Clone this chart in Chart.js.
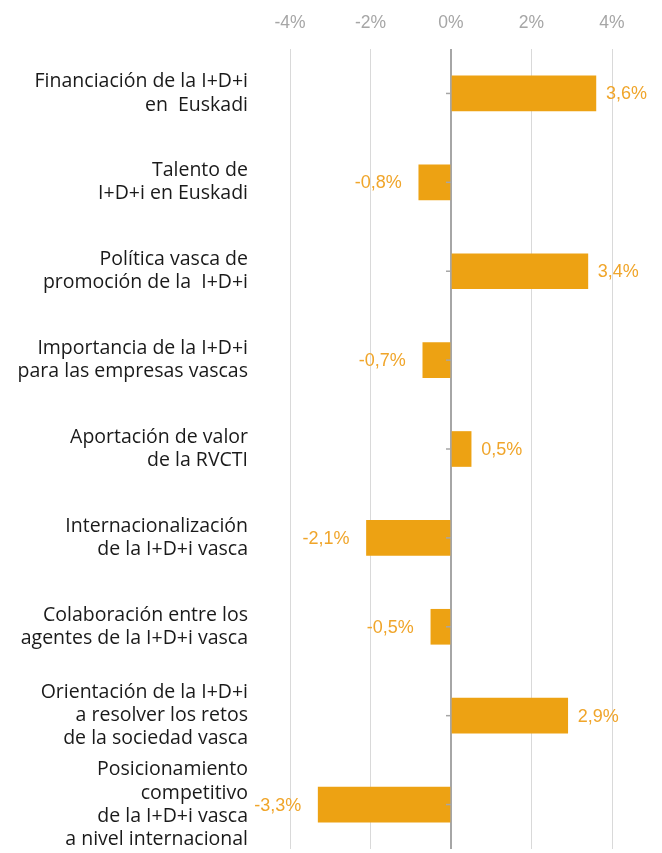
<!DOCTYPE html>
<html>
<head>
<meta charset="utf-8">
<script src="https://cdn.jsdelivr.net/npm/chart.js@4/dist/chart.umd.min.js"></script>
<style>
  html, body { margin: 0; padding: 0; background: #fff; }
  #wrap { width: 662px; height: 853px; }
</style>
</head>
<body>
<div id="wrap"><canvas id="chart"></canvas></div>
<script>
const categories = [
  ["Financiación de la I+D+i", "en  Euskadi"],
  ["Talento de", "I+D+i en Euskadi"],
  ["Política vasca de", "promoción de la  I+D+i"],
  ["Importancia de la I+D+i", "para las empresas vascas"],
  ["Aportación de valor", "de la RVCTI"],
  ["Internacionalización", "de la I+D+i vasca"],
  ["Colaboración entre los", "agentes de la I+D+i vasca"],
  ["Orientación de la I+D+i", "a resolver los retos", "de la sociedad vasca"],
  ["Posicionamiento", "competitivo", "de la I+D+i vasca", "a nivel internacional"]
]
const values = [3.6, -0.8, 3.4, -0.7, 0.5, -2.1, -0.5, 2.9, -3.3]
const xTicks = [-4, -2, 0, 2, 4]

const orange = "#eda213"
const fmt = (v) => v.toFixed(1).replace(".", ",") + "%"

// value labels outside bar ends + little ticks on the zero line
const barLabels = {
  id: "barLabels",
  afterDatasetsDraw(chart){
    const ctx = chart.ctx
    const meta = chart.getDatasetMeta(0)
    const x = chart.scales.x
    const zero = x.getPixelForValue(0)
    ctx.save()
    ctx.strokeStyle = "#a6a6a6"
    ctx.lineWidth = 1.5
    meta.data.forEach(bar => {
      ctx.beginPath()
      ctx.moveTo(zero - 5, bar.y)
      ctx.lineTo(zero, bar.y)
      ctx.stroke()
    })
    ctx.font = "18px 'Liberation Sans', Arial, sans-serif"
    ctx.fillStyle = "#f0a52a"
    ctx.textBaseline = "middle"
    meta.data.forEach((bar, i) => {
      const v = values[i]
      if(v >= 0){
        ctx.textAlign = "left"
        ctx.fillText(fmt(v), bar.x + 10, bar.y + 1)
      } else {
        ctx.textAlign = "right"
        ctx.fillText(fmt(v), bar.x - 17, bar.y + 1)
      }
    })
    ctx.restore()
  }
}

new Chart(document.getElementById("chart"), {
  type: "bar",
  data: {
    labels: categories,
    datasets: [{
      data: values,
      backgroundColor: orange,
      borderWidth: 0,
      barThickness: 35
    }]
  },
  options: {
    indexAxis: "y",
    responsive: true,
    maintainAspectRatio: false,
    animation: false,
    layout: { padding: { left: 0, right: 50, top: 0, bottom: 4 } },
    plugins: { legend: { display: false }, tooltip: { enabled: false } },
    scales: {
      x: {
        position: "top",
        min: -4,
        max: 4,
        afterFit: (s) => { s.height = 49; s.paddingLeft = 0; s.paddingRight = 0 },
        afterBuildTicks: (s) => { s.ticks = xTicks.map(v => ({ value: v })) },
        border: { display: false },
        grid: {
          drawTicks: false,
          lineWidth: (c) => c.tick && c.tick.value === 0 ? 2 : 1,
          color: (c) => c.tick && c.tick.value === 0 ? "#a6a6a6" : "#d9d9d9"
        },
        ticks: {
          padding: 15,
          color: "#a6a6a6",
          font: { family: "'Liberation Sans', Arial, sans-serif", size: 17.5 },
          callback: (v) => v + "%"
        }
      },
      y: {
        afterFit: (s) => { s.width = 290; s.paddingTop = 0; s.paddingBottom = 0 },
        border: { display: false },
        grid: { display: false, drawTicks: false },
        ticks: {
          autoSkip: false,
          padding: 42,
          color: "#1a1a1a",
          font: { family: "'Open Sans', sans-serif", size: 19.5, lineHeight: 1.19 }
        }
      }
    }
  },
  plugins: [barLabels]
})
</script>
</body>
</html>
